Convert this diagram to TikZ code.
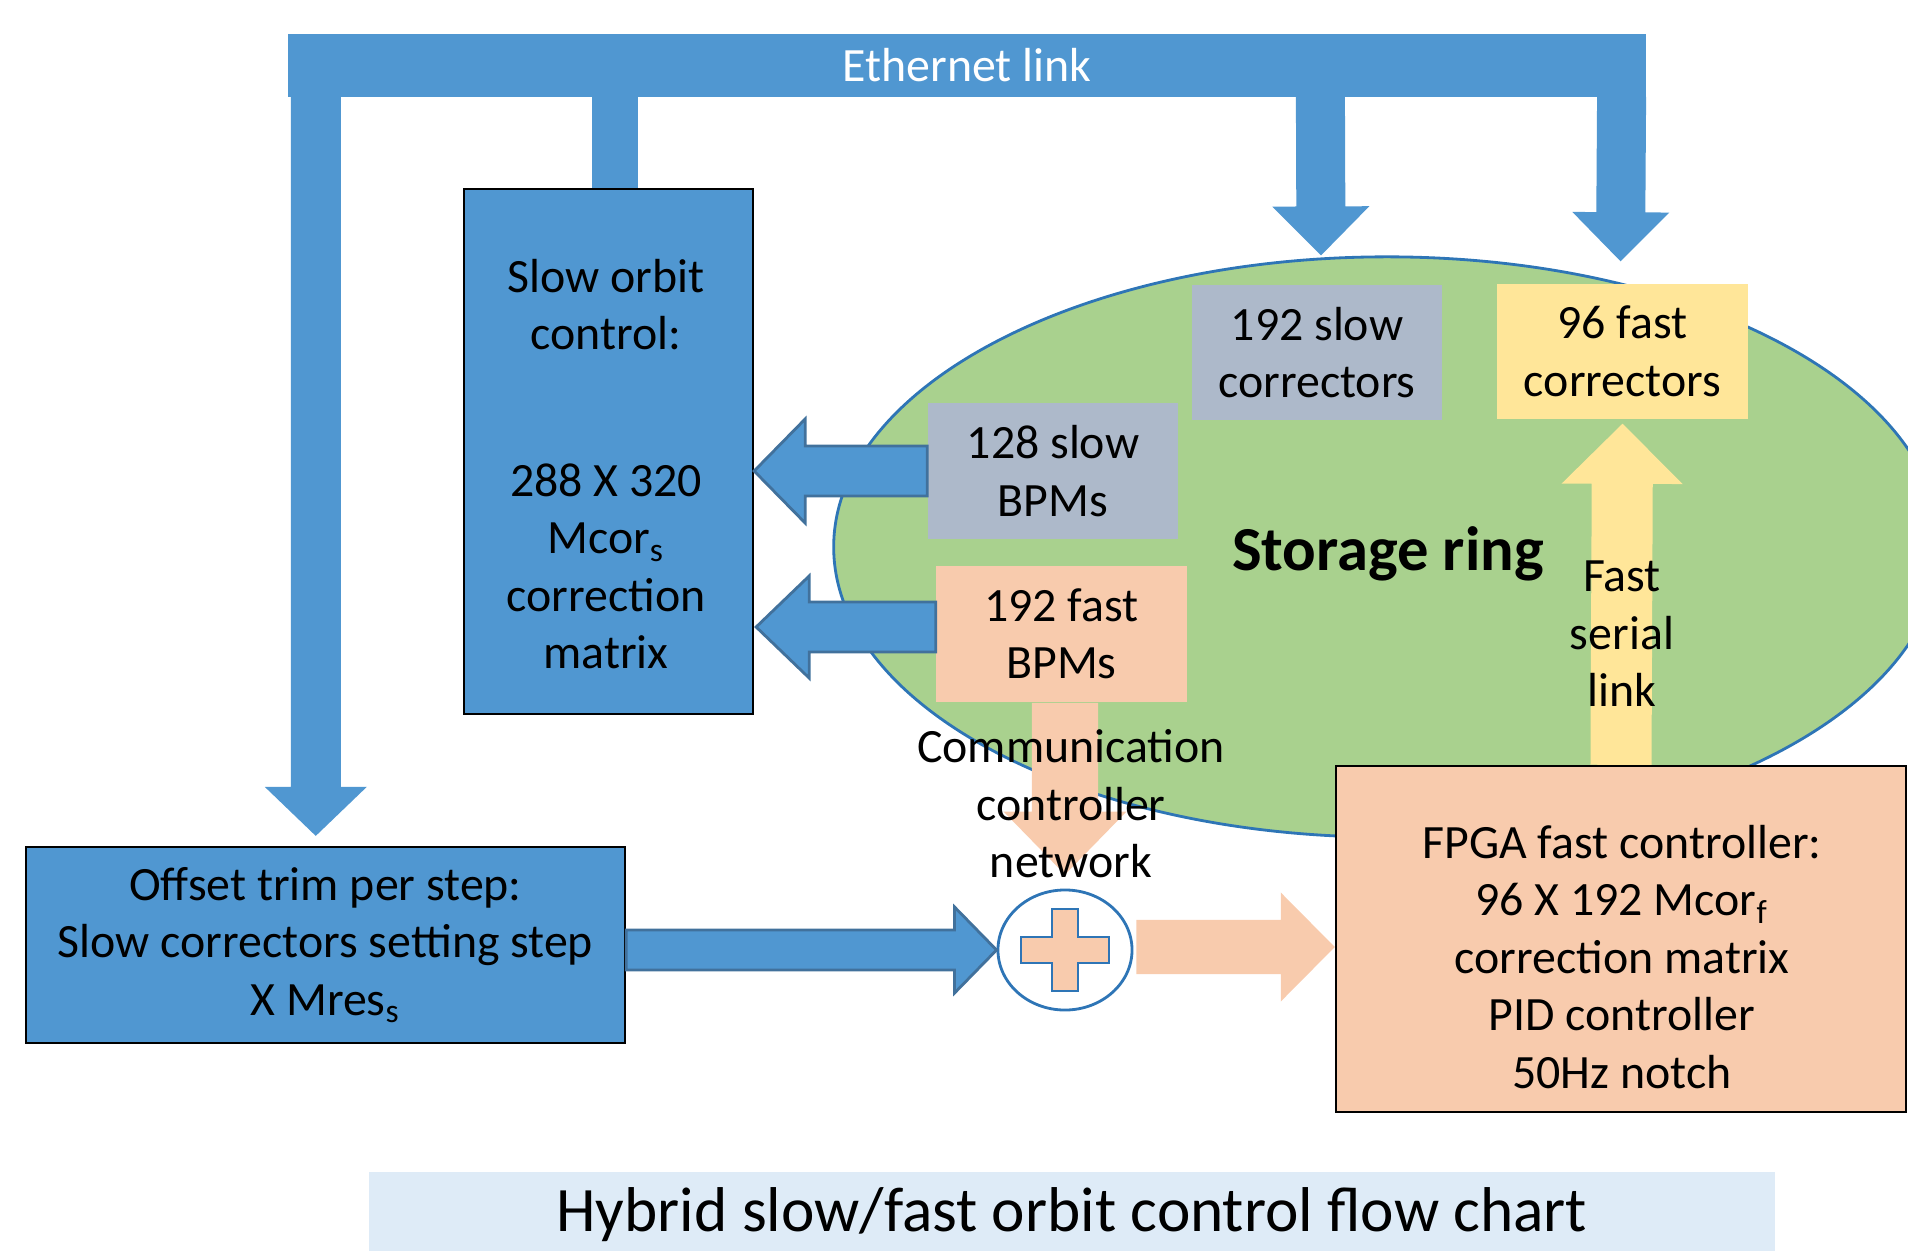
\documentclass[tikz,border=0pt]{standalone}
\usepackage{fontspec}
\setmainfont{Carlito}
\usetikzlibrary{calc}
\usetikzlibrary{shapes.geometric}

\definecolor{ethblue}{RGB}{80,151,209}
\definecolor{edgeblue}{RGB}{65,113,156}
\definecolor{ringedge}{RGB}{46,117,182}
\definecolor{ringgreen}{RGB}{169,209,142}
\definecolor{slowgray}{RGB}{173,185,202}
\definecolor{fastyellow}{RGB}{255,230,153}
\definecolor{peach}{RGB}{248,203,173}
\definecolor{titleblue}{RGB}{222,235,247}

% block arrow: [style]{from}{to}{half shaft}{half head}{head length}
\newcommand{\blockarrow}[6][]{%
 \coordinate (ba-s) at (#2);
 \coordinate (ba-e) at (#3);
 \coordinate (ba-h) at ($(ba-e)!#6!(ba-s)$);
 \path[#1] ($(ba-s)!#4!90:(ba-e)$) -- ($(ba-h)!#4!90:(ba-e)$) -- ($(ba-h)!#5!90:(ba-e)$) -- (ba-e)
  -- ($(ba-h)!#5!-90:(ba-e)$) -- ($(ba-h)!#4!-90:(ba-e)$) -- ($(ba-s)!#4!-90:(ba-e)$) -- cycle;
}

\begin{document}
\begin{tikzpicture}[x=0.01cm, y=-0.01cm,
  txt/.style={font=\fontsize{13.6}{16.35}\selectfont, align=center, inner sep=0pt},
  cell/.style={txt, fill=#1, minimum width=2.5cm, minimum height=1.35cm},
  frame/.style={draw=black, line width=0.6pt},
  outarrow/.style={fill=ethblue, draw=edgeblue, line width=0.8pt}]
\useasboundingbox (0,0) rectangle (1908,1251);
\clip (0,0) rectangle (1908,1251);

% ethernet bar and storage ring
\node[txt, fill=ethblue, text=white, minimum width=13.58cm, minimum height=0.63cm] (ether) at (967,65.5) {Ethernet link};
\node[ellipse, draw=ringedge, line width=0.8pt, fill=ringgreen, minimum width=11.06cm, minimum height=5.8cm, inner sep=0pt] (ring) at (1387,547) {};
\node[font=\fontsize{17.8}{21}\selectfont\bfseries, inner sep=0pt] (ring-text) at (1388,554) {Storage ring};

% magnets and monitors
\node[cell=slowgray] (scorr) at (1317,352.5) {192 slow\\correctors};
\node[cell=fastyellow] (fcorr) at (1622.5,351.5) {96 fast\\correctors};
\node[cell=slowgray] (sbpm) at (1053,471) {128 slow\\BPMs};
\node[cell=peach, minimum height=1.36cm] (fbpm) at (1061.5,634) {192 fast\\BPMs};

% controllers
\node[frame, fill=ethblue, minimum width=2.89cm, minimum height=5.25cm] (sorbit) at (608.5,451.5) {};
\node[txt] (sorbit-text) at (606,464) {Slow orbit\\control:\\[0.89cm]288 X 320\\Mcor\textsubscript{s}\\correction\\matrix};
\node[txt, frame, fill=ethblue, minimum width=5.99cm, minimum height=1.96cm] (offset) at (325.5,945) {Offset trim per step:\\Slow correctors setting step\\X Mres\textsubscript{s}};
\node[frame, fill=peach, minimum width=5.7cm, minimum height=3.46cm] (fpga) at (1621,939) {};
\node[txt] (fpga-text) at (1622,957) {FPGA fast controller:\\96 X 192 Mcor\textsubscript{f}\\correction matrix\\PID controller\\50Hz notch};

% summing point
\node[ellipse, draw=ringedge, line width=0.8pt, fill=white, minimum width=1.34cm, minimum height=1.2cm, inner sep=0pt] (sum) at (1065,950) {};
\draw[ringedge, line width=0.8pt, fill=peach, shift={(sum.center)}] (-13,-41) -- (13,-41) -- (13,-13) -- (44,-13) -- (44,13) -- (13,13)
  -- (13,41) -- (-13,41) -- (-13,13) -- (-44,13) -- (-44,-13) -- (-13,-13) -- cycle;

\node[font=\fontsize{18}{21}\selectfont, fill=titleblue, minimum width=14.06cm, minimum height=0.86cm, inner sep=0pt] (title) at (1072,1215)
  {Hybrid slow/fast orbit control flow chart};

% ethernet drops
\blockarrow[fill=ethblue]{$(ether.south west)+(29,-1)$}{$(offset.north west)+(291,-10)$}{0.25cm}{0.51cm}{0.49cm}
\fill[ethblue] ($(ether.south west)+(305,-1)$) rectangle ($(sorbit.north west)+(175,0)$);
\blockarrow[fill=ethblue]{$(ether.south west)+(1033.5,-1)$}{$(ring.north)+(-66,0)$}{0.245cm}{0.485cm}{0.49cm}
\blockarrow[fill=ethblue]{$(ether.south east)+(-25.5,-1)$}{$(fcorr.north)+(-2,-22)$}{0.245cm}{0.485cm}{0.49cm}

% monitor readout
\blockarrow[outarrow]{sbpm.west}{sorbit.east |- sbpm.west}{0.25cm}{0.52cm}{0.51cm}
\blockarrow[outarrow]{$(fbpm.west)+(0,-7)$}{$(sorbit.east |- fbpm.west)+(2,-7)$}{0.25cm}{0.51cm}{0.53cm}
\blockarrow[fill=peach]{fbpm.south -| sum.north}{$(sum.north)+(0,-14)$}{0.33cm}{0.615cm}{0.63cm}

% fast loop
\blockarrow[outarrow]{offset.east |- sum.west}{sum.west}{0.2cm}{0.43cm}{0.42cm}
\blockarrow[fill=peach]{$(sum.east)+(3,-3)$}{fpga.west |- 0,947}{0.27cm}{0.545cm}{0.54cm}
\blockarrow[fill=fastyellow]{fpga.north}{$(fcorr.south)+(0,4)$}{0.305cm}{0.605cm}{0.6cm}

\node[txt] (comm) at (1071,804) {Communication\\controller\\network};
\node[txt] (serial) at (1622,634) {Fast\\serial\\link};
\end{tikzpicture}
\end{document}
